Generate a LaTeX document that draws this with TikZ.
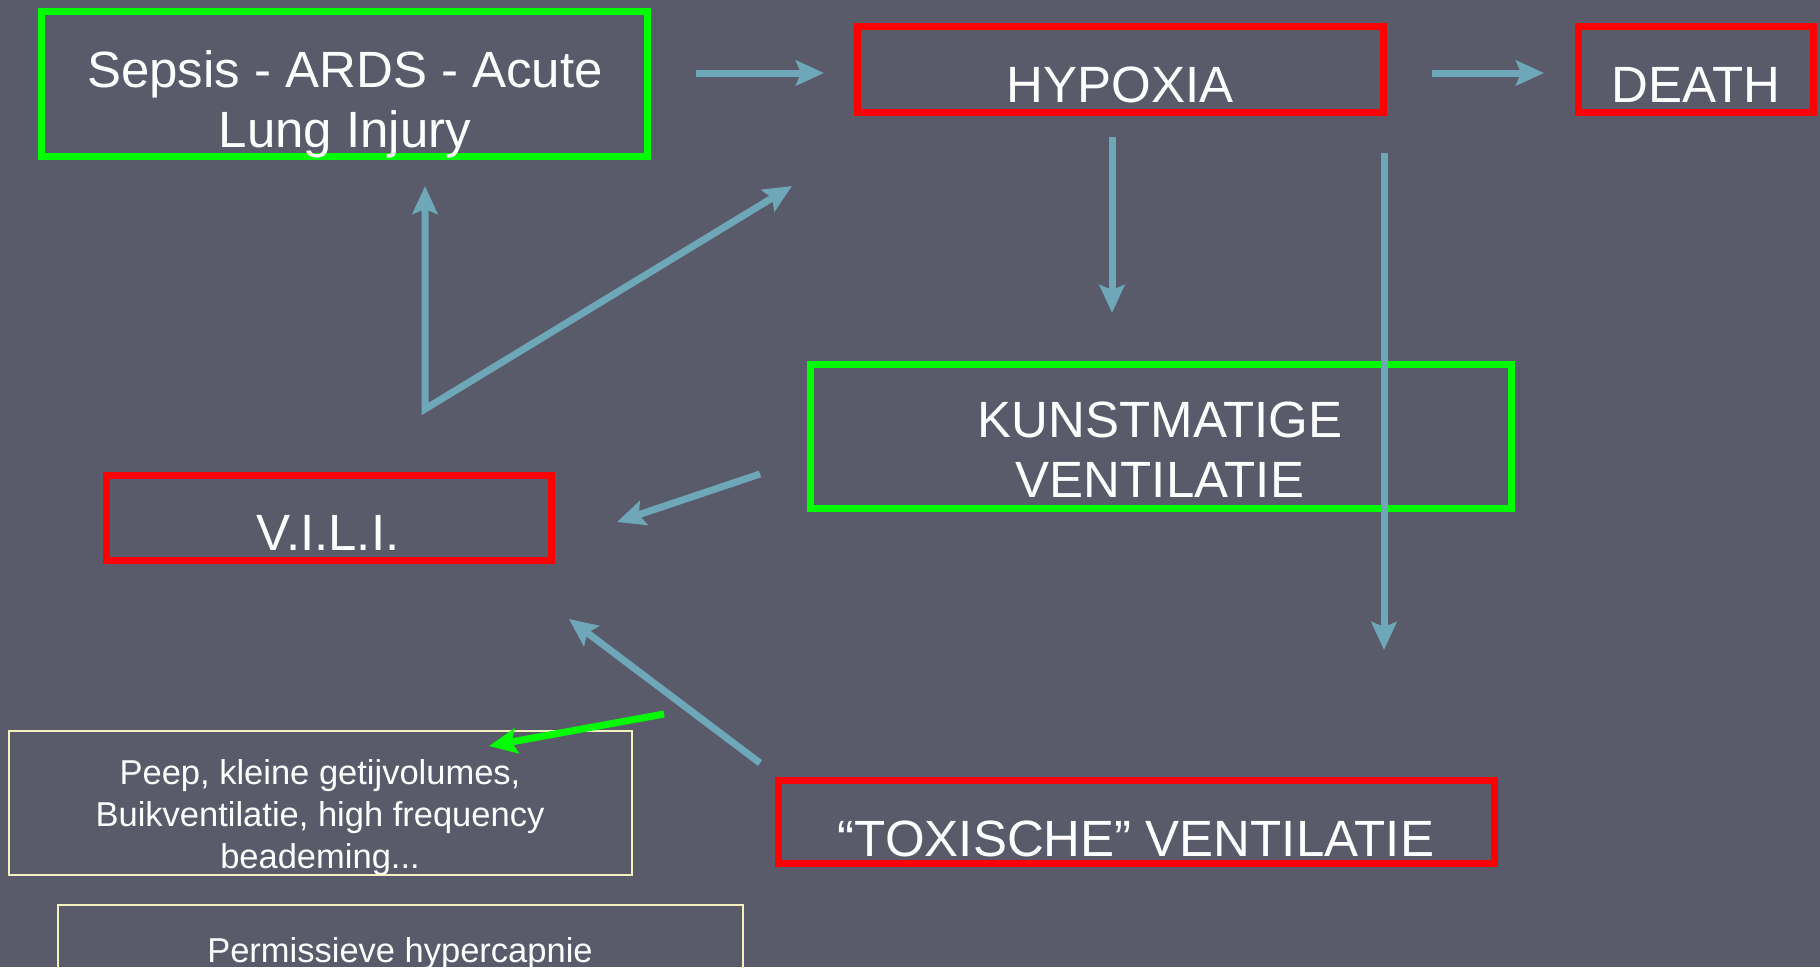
\documentclass[tikz,border=0pt]{standalone}
\usepackage{fontspec}
\setmainfont{Liberation Sans}
\usetikzlibrary{arrows.meta}
\definecolor{bg}{HTML}{595B6B}
\definecolor{teal}{HTML}{6EA8B8}
\definecolor{cream}{HTML}{F5F2C0}
\tikzset{
  redbox/.style={draw=red, line width=7pt, inner sep=0pt},
  greenbox/.style={draw=green, line width=7pt, inner sep=0pt},
  creambox/.style={draw=cream, line width=2pt, inner sep=0pt},
  big/.style={text=white, inner sep=0pt, align=center, font=\fontsize{51}{60}\selectfont},
  small/.style={text=white, inner sep=0pt, align=center, font=\fontsize{34.5}{42}\selectfont},
  tip/.style={-{Stealth[length=28pt, width=25pt, inset=5pt]}},
  arr/.style={draw=teal, line width=7pt, tip},
  garr/.style={draw=green, line width=7pt, tip}
}
\begin{document}
\begin{tikzpicture}[x=1pt, y=-1pt]
\useasboundingbox (0,0) rectangle (1820,967);
\clip (0,0) rectangle (1820,967);
\fill[bg] (0,0) rectangle (1820,967);
% boxes
\node[greenbox, minimum width=606pt, minimum height=145pt] (sepsis) at (344.5,84) {};
\node[redbox, minimum width=526pt, minimum height=86pt] (hyp) at (1120.5,69.5) {};
\node[redbox, minimum width=235pt, minimum height=86pt] (death) at (1696,69.5) {};
\node[greenbox, minimum width=701pt, minimum height=144pt] (kunst) at (1161,436.5) {};
\node[redbox, minimum width=445pt, minimum height=85pt] (vili) at (329,518) {};
\node[redbox, minimum width=716pt, minimum height=83pt] (tox) at (1136.5,822) {};
\node[creambox, minimum width=623pt, minimum height=144pt] (peep) at (320.5,803) {};
\node[creambox, minimum width=685pt, minimum height=110pt] (perm) at (400.5,960) {};
% texts
\node[big] (sepsisT) at (345,104) {Sepsis - ARDS - Acute\\Lung Injury};
\node[big, anchor=base] (hypT) at (1120,102) {HYPOXIA};
\node[big, anchor=base] (deathT) at (1696,102) {DEATH};
\node[big] (kunstT) at (1160,450) {KUNSTMATIGE\\VENTILATIE};
\node[big, anchor=base] (viliT) at (328,550) {V.I.L.I.};
\node[big, anchor=base] (toxT) at (1136,856) {“TOXISCHE” VENTILATIE};
\node[small] (peepT) at (320,818) {Peep, kleine getijvolumes,\\Buikventilatie, high frequency\\beademing...};
\node[small, anchor=base] (permT) at (400,962) {Permissieve hypercapnie};
% arrow coordinates
\coordinate (a1s) at (696,73);  \coordinate (a1e) at (824,73);
\coordinate (a2s) at (1432,73); \coordinate (a2e) at (1544,73);
\coordinate (a3s) at (1112,137); \coordinate (a3e) at (1112,313);
\coordinate (a4s) at (1384,153); \coordinate (a4e) at (1384,650);
\coordinate (vup) at (425,186); \coordinate (vtx) at (425,409); \coordinate (vdiag) at (792,186);
\coordinate (a6s) at (760,474); \coordinate (a6e) at (617,522);
\coordinate (a7s) at (760,763); \coordinate (a7e) at (569,619);
\coordinate (a8s) at (664,714); \coordinate (a8e) at (489,746);
% arrows
\draw[arr] (a1s) -- (a1e);
\draw[arr] (a2s) -- (a2e);
\draw[arr] (a3s) -- (a3e);
\draw[arr] (a4s) -- (a4e);
\draw[draw=teal, line width=7pt, {Stealth[length=28pt, width=25pt, inset=5pt]}-{Stealth[length=28pt, width=25pt, inset=5pt]}] (vup) -- (vtx) -- (vdiag);
\draw[arr] (a6s) -- (a6e);
\draw[arr] (a7s) -- (a7e);
\draw[garr] (a8s) -- (a8e);
\end{tikzpicture}
\end{document}
